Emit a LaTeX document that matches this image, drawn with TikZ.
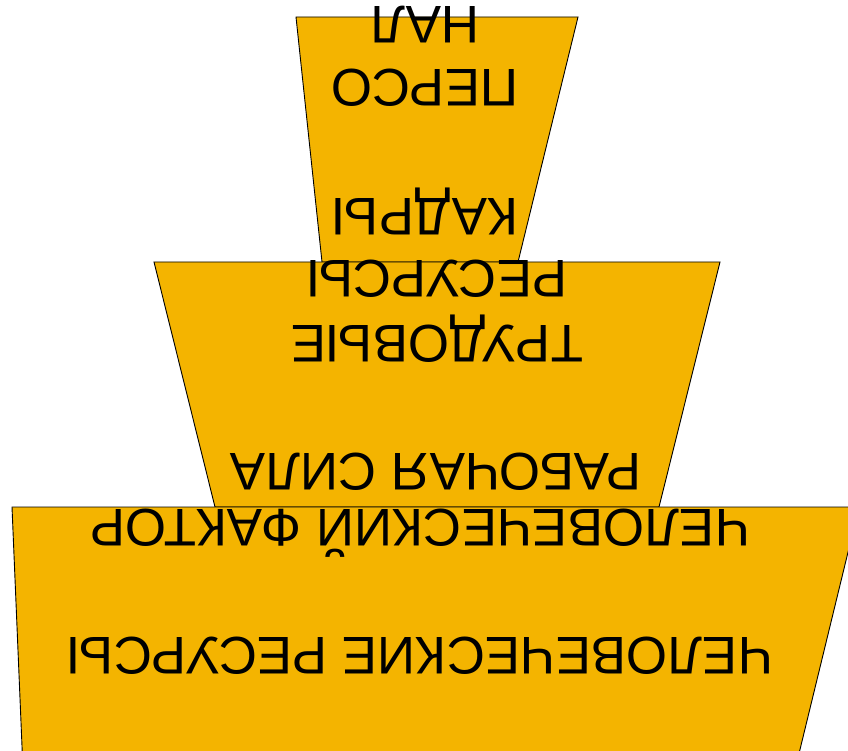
\documentclass[tikz,border=0pt]{standalone}
\usepackage{fontspec}
\setmainfont{Liberation Sans}
\usepackage{tikz}
\definecolor{Layer}{HTML}{F4B400}
\tikzset{
  layer/.style={draw=black,line width=0.9pt,fill=Layer},
  caption/.style={rotate=180,inner sep=0pt,text height=38pt,text depth=0pt,font=\fontsize{53}{58}\selectfont}
}

\begin{document}
\begin{tikzpicture}[x=1pt,y=-1pt]
  \useasboundingbox (0,0) rectangle (848,751);
  \clip (0,0) rectangle (848,751);
  % three layers, top to bottom
  \draw[layer] (296,17) -- (578,17) -- (518,262) -- (322,262) -- cycle;
  \draw[layer] (154,262) -- (720,262) -- (659,507) -- (215,507) -- cycle;
  \draw[layer] (12,507) -- (859,507) -- (795,770) -- (23,770) -- cycle;
  % labels
  \node[caption] (nal)   at (425,26)  {НАЛ};
  \node[caption] (perso) at (425,89)  {ПЕРСО};
  \node[caption] (kadry) at (425,218) {КАДРЫ};
  \node[caption] (resursy) at (437,280) {РЕСУРСЫ};
  \node[caption] (trud)    at (437,344) {ТРУДОВЫЕ};
  \node[caption] (sila)    at (436,472) {РАБОЧАЯ СИЛА};
  \node[caption] (faktor)  at (420,528) {ЧЕЛОВЕЧЕСКИЙ ФАКТОР};
  \node[caption] (chel)    at (420,656) {ЧЕЛОВЕЧЕСКИЕ РЕСУРСЫ};
\end{tikzpicture}
\end{document}
